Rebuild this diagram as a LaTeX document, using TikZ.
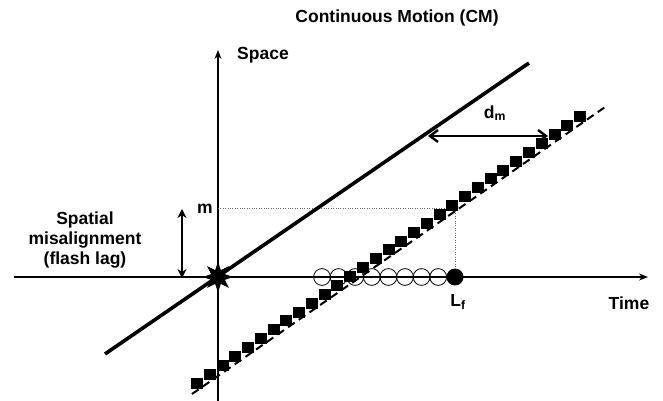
\documentclass[tikz,border=0pt]{standalone}
\usepackage{fontspec}
\setmainfont{Liberation Sans}
\usetikzlibrary{arrows.meta,shapes.geometric}

\begin{document}
\begin{tikzpicture}[x=1pt,y=1pt,>=Stealth,font=\fontsize{17.5}{20}\selectfont\bfseries]
\useasboundingbox (-218,-124) rectangle (445,277);
\tikzset{axisline/.style={line width=1.3pt},
  flashdot/.style={circle,draw,line width=0.8pt,minimum size=16.8pt,inner sep=0pt},
  motionsq/.style={fill=black}}
% axes
\coordinate (O) at (0,0);
\coordinate (tW) at (-204,0);
\coordinate (tE) at (430,0);
\coordinate (sS) at (0,-124);
\coordinate (sN) at (0,227);
\draw[axisline,-{Stealth[length=9pt,width=7pt]}] (tW)--(tE);
\draw[axisline,-{Stealth[length=9pt,width=7pt]}] (sS)--(sN);
% dotted guides
\coordinate (mY) at (0,69);
\coordinate (mC) at (237,69);
\node[circle,fill,minimum size=17pt,inner sep=0pt] (Lf) at (237,0) {};
\draw[dotted,gray!80!black,thin] (mY)--(mC)--(Lf.north);
% perceived trajectory and true trajectory
\coordinate (dA) at (-26,-117);
\coordinate (dB) at (390,172);
\draw[line width=2pt,dash pattern=on 8pt off 5pt] (dA)--(dB);
\coordinate (kA) at (-113,-77);
\coordinate (kB) at (311,214);
\draw[line width=3.6pt] (kA)--(kB);
% flashes
\foreach \i in {0,...,7}{\node[flashdot] (f\i) at (104+16.6*\i,0) {};}
% moving object samples
\foreach \i in {0,...,30}{\fill[motionsq] ({-27+12.77*\i},{-111.5+8.87*\i}) rectangle +(12,11);}
\node[star,star points=8,star point ratio=2.1,fill,minimum size=31pt,inner sep=0pt] (flash) at (O) {};
% misalignment arrows
\coordinate (mTop) at (-36,68);
\coordinate (mBot) at (-36,-1);
\draw[line width=2pt,{Stealth[length=9pt,width=9pt]}-{Stealth[length=9pt,width=9pt]}] (mTop)--(mBot);
\coordinate (dL) at (210,141);
\coordinate (dR) at (330,141);
\draw[line width=2.4pt,{Straight Barb[length=8pt,width=12pt]}-{Straight Barb[length=8pt,width=12pt]}] (dL)--(dR);
% labels
\node (title) at (179,259) {Continuous Motion (CM)};
\node (space) at (45,222) {Space};
\node (time) at (411,-26) {Time};
\node (lf) at (240,-25) {L\textsubscript{f}};
\node (m) at (-13,68) {m};
\node (dm) at (277,164) {d\textsubscript{m}};
\node[align=center] (mis) at (-133,37) {Spatial\\misalignment\\(flash lag)};
\end{tikzpicture}
\end{document}
